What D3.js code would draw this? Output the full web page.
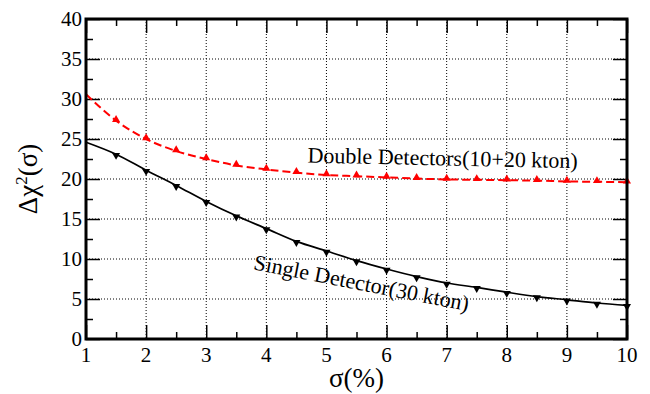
<!DOCTYPE html>
<html>
<head>
<meta charset="utf-8">
<script src="https://cdn.jsdelivr.net/npm/d3@7"></script>
</head>
<body style="margin:0">
<script>
// sigma (%) values where the markers sit
const sigma = [1, 1.5, 2, 2.5, 3, 3.5, 4, 4.5, 5, 5.5, 6, 6.5, 7, 7.5, 8, 8.5, 9, 9.5, 10];
// Double detectors (10+20 kton), red dashed
const doubleDet = [30.6, 27.3, 25.0, 23.5, 22.5, 21.7, 21.2, 20.8, 20.5, 20.35, 20.2, 20.05, 19.95, 19.9, 19.85, 19.8, 19.7, 19.65, 19.6];
// Single detector (30 kton), black solid
const singleDet = [24.6, 23.1, 21.1, 19.2, 17.2, 15.4, 13.8, 12.2, 11.0, 9.8, 8.75, 7.8, 7.0, 6.45, 5.85, 5.3, 4.9, 4.5, 4.2];
const xTicks = [1, 2, 3, 4, 5, 6, 7, 8, 9, 10];
const yTicks = [0, 5, 10, 15, 20, 25, 30, 35, 40];

const serif = "'Liberation Serif'";
const W = 650, H = 394;
const margin = { top: 19, right: 23, bottom: 55, left: 86 };
const width = W - margin.left - margin.right,
      height = H - margin.top - margin.bottom;

const svg = d3.select('body').append('svg')
    .attr('width', W)
    .attr('height', H)
    .attr('font-family', 'Liberation Serif');
const g = svg.append('g')
    .attr('transform', `translate(${margin.left},${margin.top})`);

const x = d3.scaleLinear().domain([1, 10]).range([0, width]);
const y = d3.scaleLinear().domain([0, 40]).range([height, 0]);

// dotted grid
g.selectAll('.gx').data(xTicks.slice(1, -1)).enter().append('line')
    .attr('x1', d => x(d)).attr('x2', d => x(d))
    .attr('y1', 0).attr('y2', height)
    .attr('stroke', '#000').attr('stroke-width', 1).attr('stroke-dasharray', '1,2');
g.selectAll('.gy').data(yTicks.slice(1, -1)).enter().append('line')
    .attr('x1', 0).attr('x2', width)
    .attr('y1', d => y(d)).attr('y2', d => y(d))
    .attr('stroke', '#000').attr('stroke-width', 1).attr('stroke-dasharray', '1,2');

// inward ticks on all four sides
const xMinor = d3.range(1.5, 10, 1);
const yMinor = d3.range(2.5, 40, 5);
function inward(axisFn, scale, major, minor, tr) {
    g.append('g').attr('transform', tr)
        .call(axisFn(scale).tickValues(major).tickSize(-14).tickFormat(''))
        .call(s => s.select('.domain').remove())
        .call(s => s.selectAll('line').attr('stroke-width', 1.5));
    g.append('g').attr('transform', tr)
        .call(axisFn(scale).tickValues(minor).tickSize(-7).tickFormat(''))
        .call(s => s.select('.domain').remove())
        .call(s => s.selectAll('line').attr('stroke-width', 1.5));
}
inward(d3.axisBottom, x, xTicks, xMinor, `translate(0,${height})`);
inward(d3.axisTop, x, xTicks, xMinor, 'translate(0,0)');
inward(d3.axisLeft, y, yTicks, yMinor, 'translate(0,0)');
inward(d3.axisRight, y, yTicks, yMinor, `translate(${width},0)`);

// tick labels
g.selectAll('.xl').data(xTicks).enter().append('text')
    .attr('x', d => x(d)).attr('y', height + 23)
    .attr('text-anchor', 'middle').attr('font-size', 21)
    .style('font-family', serif)
    .text(d => d);
g.selectAll('.yl').data(yTicks).enter().append('text')
    .attr('x', -4).attr('y', d => y(d) + 7)
    .attr('text-anchor', 'end').attr('font-size', 21)
    .style('font-family', serif)
    .text(d => d);

// lines
const line = d3.line().x(d => x(d[0])).y(d => y(d[1])).curve(d3.curveMonotoneX);
const dblPts = sigma.map((s, i) => [s, doubleDet[i]]);
const sglPts = sigma.map((s, i) => [s, singleDet[i]]);

g.append('path').datum(sglPts).attr('d', line)
    .attr('fill', 'none').attr('stroke', '#000').attr('stroke-width', 1.7);
g.append('path').datum(dblPts).attr('d', line)
    .attr('fill', 'none').attr('stroke', '#ff0000').attr('stroke-width', 2)
    .attr('stroke-dasharray', '8,4');

const tri = d3.symbol().type(d3.symbolTriangle).size(28);
g.selectAll('.m1').data(dblPts.slice(1)).enter().append('path')
    .attr('d', tri)
    .attr('transform', d => `translate(${x(d[0])},${y(d[1]) - 1})`)
    .attr('fill', '#ff0000');
g.selectAll('.m2').data(sglPts.slice(1)).enter().append('path')
    .attr('d', tri)
    .attr('transform', d => `translate(${x(d[0])},${y(d[1]) + 1}) rotate(180)`)
    .attr('fill', '#000');

// frame
g.append('rect').attr('width', width).attr('height', height)
    .attr('fill', 'none').attr('stroke', '#000').attr('stroke-width', 3);

// curve labels
g.append('text')
    .attr('transform', `translate(${x(6.93)},${y(21.7)}) rotate(1.2)`)
    .attr('text-anchor', 'middle').attr('font-size', 22)
    .style('font-family', serif)
    .text('Double Detectors(10+20 kton)');
g.append('text')
    .attr('transform', `translate(${x(5.56)},${y(6.1)}) rotate(11)`)
    .attr('text-anchor', 'middle').attr('font-size', 22)
    .style('font-family', serif)
    .text('Single Detector(30 kton)');

// axis titles
svg.append('text')
    .attr('x', margin.left + width / 2).attr('y', 387)
    .attr('text-anchor', 'middle').attr('font-size', 27)
    .style('font-family', serif)
    .text('σ(%)');
const yt = svg.append('text')
    .attr('transform', `translate(37,${margin.top + height / 2}) rotate(-90)`)
    .attr('text-anchor', 'middle').attr('font-size', 27)
    .style('font-family', serif);
yt.append('tspan').text('Δχ');
yt.append('tspan').attr('dy', -10).attr('font-size', 17).text('2');
yt.append('tspan').attr('dy', 10).text('(σ)');
</script>
</body>
</html>
